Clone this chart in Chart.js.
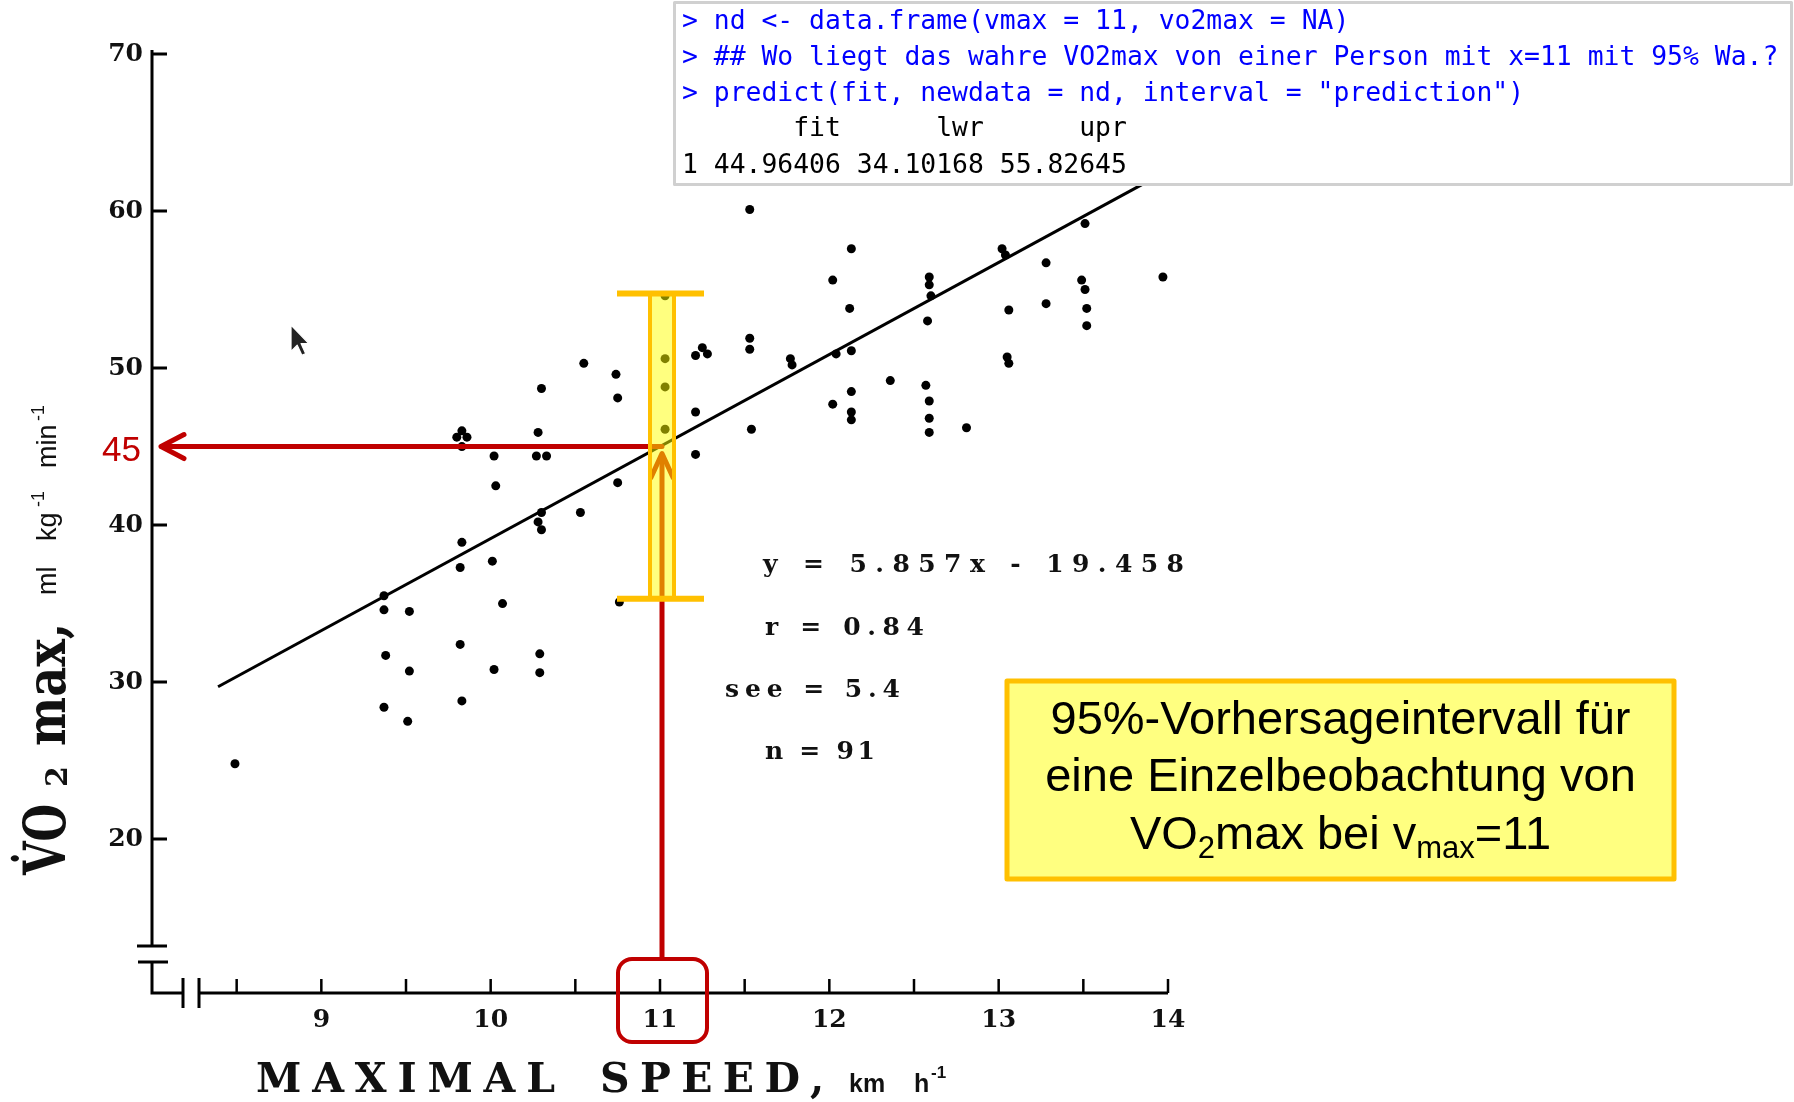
<!DOCTYPE html>
<html lang="de">
<head>
<meta charset="utf-8">
<title>VO2max vs. maximal speed</title>
<script src="https://cdn.jsdelivr.net/npm/chart.js@4.4.1/dist/chart.umd.min.js"></script>
<style>
  html, body { margin: 0; padding: 0; background: #ffffff; }
  #wrap { position: relative; width: 1794px; height: 1102px; }
</style>
</head>
<body>
<div id="wrap"><canvas id="myChart"></canvas></div>
<script>
// points: maximal speed (km/h) and VO2max (ml/kg/min)
const speedKmh = [
  10.55, 10.30, 10.28, 10.27, 10.33, 9.80, 9.86, 9.83, 9.83, 10.02,
  10.03, 10.30, 10.28, 10.30, 10.53, 9.83, 9.82, 10.01,
  11.53, 12.13, 12.02, 12.12, 12.59, 12.59, 12.60, 12.58, 11.03, 11.03,
  11.03, 11.03, 10.74, 10.75, 10.75, 11.21, 11.25, 11.28, 11.21, 11.21,
  11.53, 11.53, 11.54, 11.77, 11.78, 12.04, 12.13, 12.36, 12.13, 12.02,
  12.13, 12.13, 12.57, 12.59, 12.59, 12.59, 12.81,
  13.51, 13.02, 13.04, 13.28, 13.49, 13.51, 13.97, 13.06, 13.28, 13.52,
  13.52, 13.05, 13.06,
  9.37, 9.37, 9.52, 10.07, 9.82, 9.38, 9.52, 10.02, 10.29, 10.29,
  9.37, 9.51, 9.83, 8.49, 10.76
];
const vo2max = [
  50.3, 48.7, 45.9, 44.4, 44.4, 45.6, 45.6, 46.0, 45.0, 44.4,
  42.5, 40.8, 40.2, 39.7, 40.8, 38.9, 37.3, 37.7,
  60.1, 57.6, 55.6, 53.8, 55.8, 55.3, 54.6, 53.0, 54.6, 50.6,
  48.8, 46.1, 49.6, 48.1, 42.7, 50.8, 51.3, 50.9, 47.2, 44.5,
  51.9, 51.2, 46.1, 50.6, 50.2, 50.9, 51.1, 49.2, 48.5, 47.7,
  47.2, 46.7, 48.9, 47.9, 46.8, 45.9, 46.2,
  59.2, 57.6, 57.2, 56.7, 55.6, 55.0, 55.8, 53.7, 54.1, 53.8,
  52.7, 50.7, 50.3,
  35.5, 34.6, 34.5, 35.0, 32.4, 31.7, 30.7, 30.8, 31.8, 30.6,
  28.4, 27.5, 28.8, 24.8, 35.1
];

const xTicks = [8.5, 9, 9.5, 10, 10.5, 11, 11.5, 12, 12.5, 13, 13.5, 14];
const yTicks = [20, 30, 40, 50, 60, 70];

// regression line end points (y = 5.857x - 19.458)
const fitX = [8.39, 13.9];
const fitY = [29.7, 62.0];

const newSpeed = 11;
const fitAtNew = 45;
// yellow bar as it is drawn in the picture
const barTop = 54.75;
const barBottom = 35.3;

const statLines = ['y = 5.857x - 19.458', 'r = 0.84', 'see = 5.4', 'n = 91'];
const consoleLines = [
  '> nd <- data.frame(vmax = 11, vo2max = NA)',
  '> ## Wo liegt das wahre VO2max von einer Person mit x=11 mit 95% Wa.?',
  '> predict(fit, newdata = nd, interval = "prediction")',
  '       fit      lwr      upr',
  '1 44.96406 34.10168 55.82645'
];
const noteLines = ['95%-Vorhersageintervall für', 'eine Einzelbeobachtung von'];

const RED = '#c00000';
const GOLD = '#ffc000';

function spread(ctx, text, left, right, y) {
  const chars = [...text];
  const widths = chars.map((c) => ctx.measureText(c).width);
  const natural = widths.reduce((a, b) => a + b, 0);
  const gap = chars.length > 1 ? (right - left - natural) / (chars.length - 1) : 0;
  let x = left;
  chars.forEach((c, i) => {
    ctx.fillText(c, x, y);
    x += widths[i] + gap;
  });
}

function drawAxes(chart) {
  const ctx = chart.ctx;
  const xs = chart.scales.x;
  const ys = chart.scales.y;
  const x0 = xs.left;
  const yb = ys.bottom;
  ctx.save();
  ctx.strokeStyle = '#000';
  ctx.lineWidth = 3;
  ctx.beginPath();
  ctx.moveTo(x0, ys.top - 4);
  ctx.lineTo(x0, yb - 47);
  ctx.moveTo(x0 - 15, yb - 47);
  ctx.lineTo(x0 + 15, yb - 47);
  ctx.moveTo(x0 - 14, yb - 31);
  ctx.lineTo(x0 + 16, yb - 31);
  ctx.moveTo(x0, yb - 31);
  ctx.lineTo(x0, yb);
  ctx.lineTo(x0 + 31, yb);
  ctx.moveTo(x0 + 31, yb - 15);
  ctx.lineTo(x0 + 31, yb + 15);
  ctx.moveTo(x0 + 47, yb - 15);
  ctx.lineTo(x0 + 47, yb + 15);
  ctx.moveTo(x0 + 47, yb);
  ctx.lineTo(xs.right, yb);
  yTicks.forEach((v) => {
    const y = ys.getPixelForValue(v);
    ctx.moveTo(x0, y);
    ctx.lineTo(x0 + 15, y);
  });
  ctx.stroke();
  ctx.lineWidth = 2.5;
  ctx.beginPath();
  xTicks.forEach((v) => {
    const x = xs.getPixelForValue(v);
    ctx.moveTo(x, yb);
    ctx.lineTo(x, yb - 14);
  });
  ctx.stroke();
  ctx.restore();
}

function drawAnnotations(chart) {
  const ctx = chart.ctx;
  const xs = chart.scales.x;
  const ys = chart.scales.y;
  const px = xs.getPixelForValue(newSpeed) + 2;
  const py = ys.getPixelForValue(fitAtNew);
  const boxTop = ys.bottom - 34;
  ctx.save();

  // red arrows
  ctx.strokeStyle = RED;
  ctx.lineWidth = 5;
  ctx.lineCap = 'round';
  ctx.lineJoin = 'round';
  ctx.beginPath();
  ctx.moveTo(px, py);
  ctx.lineTo(xs.left + 9, py);
  ctx.moveTo(xs.left + 32, py - 12);
  ctx.lineTo(xs.left + 9, py);
  ctx.lineTo(xs.left + 32, py + 12);
  ctx.stroke();
  ctx.lineCap = 'butt';
  ctx.beginPath();
  ctx.moveTo(px, boxTop);
  ctx.lineTo(px, py + 8);
  ctx.stroke();
  ctx.lineCap = 'round';
  ctx.beginPath();
  ctx.moveTo(px - 11, py + 31);
  ctx.lineTo(px, py + 7);
  ctx.lineTo(px + 11, py + 31);
  ctx.stroke();

  // yellow prediction bar
  const yTop = ys.getPixelForValue(barTop);
  const yBot = ys.getPixelForValue(barBottom);
  ctx.fillStyle = 'rgba(255, 255, 0, 0.5)';
  ctx.fillRect(px - 12, yTop, 24, yBot - yTop);
  ctx.strokeStyle = GOLD;
  ctx.lineWidth = 4;
  ctx.lineCap = 'butt';
  ctx.strokeRect(px - 12, yTop, 24, yBot - yTop);
  ctx.lineWidth = 6;
  ctx.beginPath();
  ctx.moveTo(px - 45, yTop);
  ctx.lineTo(px + 42, yTop);
  ctx.moveTo(px - 45, yBot);
  ctx.lineTo(px + 42, yBot);
  ctx.stroke();

  // red rounded frame around the "11" tick label
  ctx.strokeStyle = RED;
  ctx.lineWidth = 4;
  ctx.beginPath();
  ctx.roundRect(px - 44, boxTop, 89, 83, 14);
  ctx.stroke();

  // "45" label
  ctx.fillStyle = RED;
  ctx.font = '35px "Liberation Sans"';
  ctx.textAlign = 'right';
  ctx.textBaseline = 'alphabetic';
  ctx.fillText('45', 141, py + 14);

  // regression statistics
  ctx.fillStyle = '#111';
  ctx.textAlign = 'left';
  ctx.font = 'bold 25px "DejaVu Serif"';
  const statPos = [[763, 1184, 572], [765, 924, 635], [725, 900, 697], [765, 875, 759]];
  statLines.forEach((t, i) => spread(ctx, t, statPos[i][0], statPos[i][1], statPos[i][2]));

  // note box
  ctx.fillStyle = '#ffff80';
  ctx.fillRect(1007, 681, 667, 198);
  ctx.strokeStyle = GOLD;
  ctx.lineWidth = 5;
  ctx.strokeRect(1007, 681, 667, 198);
  ctx.fillStyle = '#000';
  ctx.textAlign = 'center';
  ctx.font = '47px "Liberation Sans"';
  const cx = 1340.5;
  ctx.fillText(noteLines[0], cx, 734);
  ctx.fillText(noteLines[1], cx, 791);
  const runs = [
    { t: 'VO', big: true }, { t: '2', big: false },
    { t: 'max bei v', big: true }, { t: 'max', big: false }, { t: '=11', big: true }
  ];
  const bigFont = '47px "Liberation Sans"';
  const smallFont = '31px "Liberation Sans"';
  let total = 0;
  runs.forEach((r) => {
    ctx.font = r.big ? bigFont : smallFont;
    r.w = ctx.measureText(r.t).width;
    total += r.w;
  });
  let rx = cx - total / 2;
  ctx.textAlign = 'left';
  runs.forEach((r) => {
    ctx.font = r.big ? bigFont : smallFont;
    ctx.fillText(r.t, rx, r.big ? 849 : 858);
    rx += r.w;
  });

  // R console output
  ctx.fillStyle = '#ffffff';
  ctx.fillRect(674, 2, 1118, 183);
  ctx.strokeStyle = '#d0d0d0';
  ctx.lineWidth = 3;
  ctx.strokeRect(674.5, 2.5, 1117, 182);
  ctx.font = '26.4px "DejaVu Sans Mono"';
  ctx.textBaseline = 'middle';
  const rows = [22, 58.5, 94, 129.5, 166];
  consoleLines.forEach((t, i) => {
    ctx.fillStyle = i < 3 ? '#0000ff' : '#000000';
    ctx.fillText(t, 682, rows[i]);
  });

  // mouse pointer left in the screenshot
  ctx.save();
  ctx.translate(291, 325);
  ctx.scale(1.55, 1.55);
  ctx.beginPath();
  ctx.moveTo(0, 0);
  ctx.lineTo(0, 17);
  ctx.lineTo(4, 13);
  ctx.lineTo(7, 19.5);
  ctx.lineTo(9.5, 18.5);
  ctx.lineTo(6.5, 12);
  ctx.lineTo(11.5, 12);
  ctx.closePath();
  ctx.fillStyle = '#222';
  ctx.fill();
  ctx.strokeStyle = '#ffffff';
  ctx.lineWidth = 0.8;
  ctx.stroke();
  ctx.restore();

  // axis titles
  ctx.fillStyle = '#111';
  ctx.textBaseline = 'alphabetic';
  ctx.textAlign = 'left';
  ctx.font = 'bold 41px "DejaVu Serif"';
  spread(ctx, 'MAXIMAL', 256, 555, 1092);
  spread(ctx, 'SPEED', 600, 800, 1092);
  ctx.fillText(',', 810, 1092);
  ctx.font = 'bold 25px "Liberation Sans"';
  ctx.fillText('km', 849, 1092);
  ctx.fillText('h', 914, 1092);
  ctx.font = 'bold 17px "Liberation Sans"';
  ctx.fillText('-1', 931, 1078);

  ctx.save();
  ctx.translate(65, 875);
  ctx.rotate(-Math.PI / 2);
  ctx.font = 'bold 57px "DejaVu Serif"';
  ctx.save();
  ctx.scale(0.76, 1);
  ctx.fillText('V\u0307O', 0, 0);
  ctx.restore();
  ctx.font = 'bold 30px "DejaVu Serif"';
  ctx.fillText('2', 88, 2);
  ctx.font = 'bold 54px "DejaVu Serif"';
  ctx.save();
  ctx.translate(129, 0);
  ctx.scale(0.86, 1);
  ctx.fillText('max,', 0, 0);
  ctx.restore();
  ctx.font = '27px "Liberation Sans"';
  ctx.fillText('ml', 280, -9);
  ctx.fillText('kg', 334, -9);
  ctx.fillText('min', 407, -9);
  ctx.font = '18px "Liberation Sans"';
  ctx.fillText('-1', 368, -21);
  ctx.fillText('-1', 454, -21);
  ctx.restore();

  ctx.restore();
}

const overlayPlugin = {
  id: 'overlay',
  beforeDatasetsDraw(chart) {
    drawAxes(chart);
  },
  afterDatasetsDraw(chart) {
    drawAnnotations(chart);
  }
};

const myChart = new Chart(document.getElementById('myChart'), {
  type: 'scatter',
  data: {
    datasets: [
      {
        label: 'Messwerte',
        data: speedKmh.map((x, i) => ({ x: x, y: vo2max[i] })),
        backgroundColor: '#000',
        borderColor: '#000',
        borderWidth: 0,
        pointRadius: 4.5,
        pointHoverRadius: 4.5
      },
      {
        label: 'Regressionsgerade',
        data: fitX.map((x, i) => ({ x: x, y: fitY[i] })),
        showLine: true,
        borderColor: '#000',
        borderWidth: 3,
        pointRadius: 0,
        fill: false
      }
    ]
  },
  options: {
    responsive: true,
    maintainAspectRatio: false,
    animation: false,
    layout: { padding: { top: 54, right: 626, left: 0, bottom: 0 } },
    plugins: {
      legend: { display: false },
      tooltip: { enabled: false }
    },
    scales: {
      x: {
        type: 'linear',
        min: 8,
        max: 14,
        grid: { display: false, drawTicks: false },
        border: { display: false },
        afterBuildTicks: (s) => { s.ticks = xTicks.map((v) => ({ value: v })); },
        afterFit: (s) => { s.height = 109; },
        ticks: {
          autoSkip: false,
          maxRotation: 0,
          padding: 12,
          color: '#111',
          font: { family: 'DejaVu Serif', size: 25, weight: 'bold' },
          callback: (v) => (Number.isInteger(v) ? String(v) : '')
        }
      },
      y: {
        type: 'linear',
        min: 10.2,
        max: 70,
        grid: { display: false, drawTicks: false },
        border: { display: false },
        afterBuildTicks: (s) => { s.ticks = yTicks.map((v) => ({ value: v })); },
        afterFit: (s) => { s.width = 152; },
        ticks: {
          padding: 9,
          color: '#111',
          font: { family: 'DejaVu Serif', size: 25, weight: 'bold' }
        }
      }
    }
  },
  plugins: [overlayPlugin]
});
</script>
</body>
</html>
